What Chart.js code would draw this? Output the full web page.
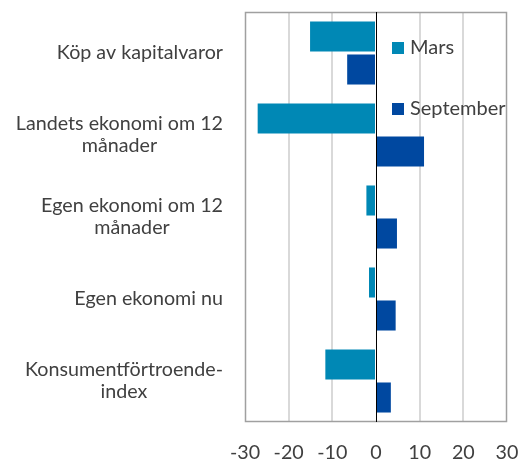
<!DOCTYPE html>
<html>
<head>
<meta charset="utf-8">
<script src="https://cdn.jsdelivr.net/npm/chart.js@4.4.1/dist/chart.umd.min.js"></script>
<style>
  html, body { margin: 0; padding: 0; background: #fff; }
  #wrap { width: 521px; height: 459px; }
</style>
</head>
<body>
<div id="wrap"><canvas id="chart" width="521" height="459"></canvas></div>
<script>
// Data
const categories = [
    ['Köp av kapitalvaror'],
    ['Landets ekonomi om 12', 'månader'],
    ['Egen ekonomi om 12', 'månader'],
    ['Egen ekonomi nu'],
    ['Konsumentförtroende-', 'index']
];
const mars = [-15.1, -27.1, -2.2, -1.6, -11.6];
const september = [-6.6, 11.0, 4.8, 4.5, 3.4];
const xTicks = [-30, -20, -10, 0, 10, 20, 30];

const FONT = 'Lato, "Open Sans", sans-serif';
const TEXT = '#404040';

// Kategorietiketter: blocket högerjusterat, raderna centrerade
const labelPlugin = {
    id: 'catLabels',
    afterDraw(chart) {
        const ctx = chart.ctx;
        const y = chart.scales.y;
        ctx.save();
        ctx.font = '19.7px ' + FONT;
        ctx.fillStyle = TEXT;
        ctx.textAlign = 'center';
        ctx.textBaseline = 'middle';
        const right = chart.chartArea.left - 22;
        const lh = 22;
        categories.forEach((lines, i) => {
            const w = Math.max(...lines.map(l => ctx.measureText(l).width));
            const cx = right - w / 2;
            const cy = y.getPixelForValue(i);
            lines.forEach((l, k) => {
                ctx.fillText(l, cx, cy + (k - (lines.length - 1) / 2) * lh);
            });
        });
        ctx.restore();
    }
};

// Ram runt ritytan + förklaring inne i diagrammet
const framePlugin = {
    id: 'frame',
    beforeDatasetsDraw(chart) {
        const { ctx, chartArea: a } = chart;
        ctx.save();
        ctx.strokeStyle = '#a0a0a0';
        ctx.lineWidth = 1.5;
        ctx.strokeRect(Math.round(a.left) + 0.5, Math.round(a.top) + 0.5,
            Math.round(a.right - a.left) - 1, Math.round(a.bottom - a.top) - 1);
        ctx.restore();
    },
    afterDatasetsDraw(chart) {
        const { ctx, chartArea: a } = chart;
        const x0 = chart.scales.x.getPixelForValue(0);
        ctx.save();
        ctx.strokeStyle = '#000';
        ctx.lineWidth = 1;
        ctx.beginPath();
        ctx.moveTo(Math.round(x0) + 0.5, a.top);
        ctx.lineTo(Math.round(x0) + 0.5, a.bottom);
        ctx.stroke();

        ctx.font = '20px ' + FONT;
        ctx.textBaseline = 'middle';
        ctx.textAlign = 'left';
        chart.data.datasets.forEach((ds, i) => {
            const lx = x0 + 16;
            const ly = a.top + 36 + i * 61;
            ctx.fillStyle = ds.backgroundColor;
            ctx.fillRect(lx, ly - 6, 12, 12);
            ctx.fillStyle = TEXT;
            ctx.fillText(ds.label, lx + 18, ly);
        });
        ctx.restore();
    }
};

new Chart(document.getElementById('chart'), {
    type: 'bar',
    data: {
        labels: categories,
        datasets: [
            { label: 'Mars', data: mars, backgroundColor: '#0088b5' },
            { label: 'September', data: september, backgroundColor: '#0048a0' }
        ]
    },
    options: {
        indexAxis: 'y',
        responsive: false,
        animation: false,
        categoryPercentage: 0.805,
        barPercentage: 0.91,
        layout: { padding: { top: 12, right: 14, left: 0, bottom: 0 } },
        plugins: {
            legend: { display: false },
            tooltip: { enabled: false }
        },
        scales: {
            x: {
                min: -30,
                max: 30,
                afterBuildTicks: s => { s.ticks = xTicks.map(v => ({ value: v })); },
                afterFit: s => { s.height = 37; s.paddingLeft = 0; s.paddingRight = 0; },
                border: { display: false },
                grid: {
                    drawTicks: false,
                    color: c => (c.tick.value === 0 || Math.abs(c.tick.value) === 30) ? 'rgba(0,0,0,0)' : '#d9d9d9',
                    lineWidth: 2
                },
                ticks: {
                    padding: 19,
                    color: TEXT,
                    font: { family: FONT, size: 19.7 }
                }
            },
            y: {
                afterFit: s => { s.width = 245; },
                border: { display: false },
                grid: { display: false },
                ticks: { display: false }
            }
        }
    },
    plugins: [labelPlugin, framePlugin]
});
</script>
</body>
</html>
